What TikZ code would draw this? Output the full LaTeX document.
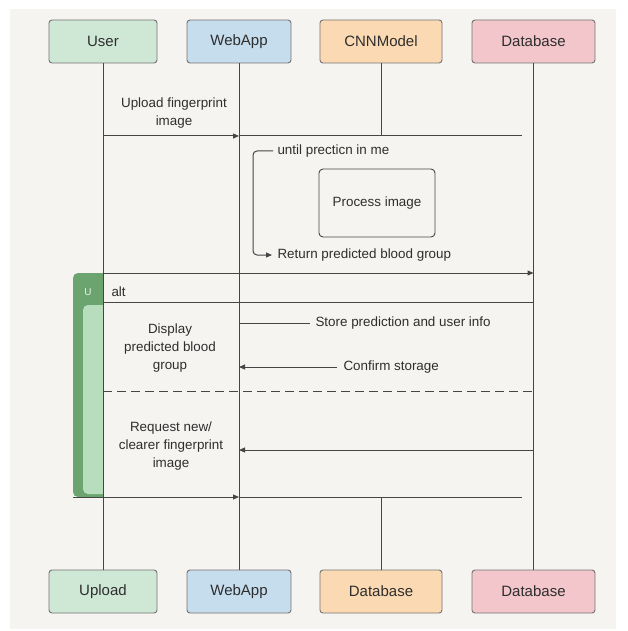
\documentclass[tikz,border=0pt]{standalone}
\usepackage{fontspec}
\setmainfont{Liberation Sans}
\definecolor{PanelBg}{HTML}{F6F4F1}
\definecolor{UserFill}{HTML}{CFE8D5}
\definecolor{WebFill}{HTML}{C6DDED}
\definecolor{ModelFill}{HTML}{FBD9B2}
\definecolor{DbFill}{HTML}{F2C6CA}
\definecolor{AltDark}{HTML}{6BA46F}
\definecolor{AltLight}{HTML}{B7DDBC}
\definecolor{InkLine}{HTML}{454545}
\definecolor{InkText}{HTML}{2E2E2E}
\usetikzlibrary{positioning, arrows.meta}

\begin{document}
\begin{tikzpicture}[x=1pt, y=-1pt,
    actor/.style={draw=gray!90!black, rounded corners=3pt, line width=0.9pt, minimum height=43pt,
      font=\fontsize{15}{17}\selectfont, text=InkText},
    lifeline/.style={InkLine, line width=1pt},
    msg/.style={lifeline, -{Triangle[length=6pt, width=5pt]}},
    msgtext/.style={font=\fontsize{13.4}{18}\selectfont, text=InkText, align=center}]

    \useasboundingbox (0,0) rectangle (628,631);
    \fill[white] (0,0) rectangle (628,631);
    \fill[PanelBg] (10,9) rectangle (616,629);

    % participants, top and bottom
    \node[actor, fill=UserFill, minimum width=108pt] (user) at (103,41.5) {User};
    \node[actor, fill=WebFill, minimum width=104pt] (webapp) at (239,41.5) {WebApp};
    \node[actor, fill=ModelFill, minimum width=122pt] (cnn) at (381,41.5) {CNNModel};
    \node[actor, fill=DbFill, minimum width=123pt] (db) at (533.5,41.5) {Database};

    \node[actor, fill=UserFill, minimum width=108pt] (upload) at (103,591.5) {Upload};
    \node[actor, fill=WebFill, minimum width=104pt] (webappB) at (239,591.5) {WebApp};
    \node[actor, fill=ModelFill, minimum width=122pt] (cnnB) at (381,591.5) {Database};
    \node[actor, fill=DbFill, minimum width=123pt] (dbB) at (533.5,591.5) {Database};

    % alt frame
    \fill[AltDark] (103,273) -- (78,273) [rounded corners=5pt] -- (73,273) -- (73,497) [sharp corners] -- (103,497) -- cycle;
    \fill[AltLight] (103,305) -- (88,305) [rounded corners=5pt] -- (83,305) -- (83,494) [sharp corners] -- (103,494) -- cycle;
    \node[text=white!85!AltDark, font=\fontsize{10}{12}\selectfont] at (88,292) {U};
    \node[msgtext, anchor=west] at (108,292) {alt};

    \coordinate (upMsg) at (103,136);
    \coordinate (retMsg) at (103,273);
    \coordinate (altTop) at (103,302);
    \coordinate (altSep) at (103,391);
    \coordinate (altEnd) at (73,497);

    % lifelines
    \draw[lifeline] (user) -- (upload);
    \draw[lifeline] (webapp) -- (webappB);
    \draw[lifeline] (db) -- (dbB);
    \draw[lifeline] (cnn) -- (cnn |- upMsg);
    \draw[lifeline] (cnnB |- altEnd) -- (cnnB);

    % messages
    \draw[msg] (upMsg) -- (upMsg -| webapp);
    \draw[lifeline] (upMsg -| webapp) -- (522,136);
    \node[msgtext] at (174,113.5) {Upload fingerprint\\image};

    \draw[lifeline, rounded corners=4pt, -{Triangle[length=6pt, width=5pt]}]
      (273,151) -- (253,151) -- (253,255) -- (272,255);
    \node[msgtext, anchor=west] at (274,151) {until precticn in me};
    \node[msgtext, anchor=west] at (274,255) {Return predicted blood group};
    \node[draw=InkLine, line width=0.9pt, rounded corners=4pt, minimum width=116pt, minimum height=68pt,
      msgtext] (proc) at (377,203) {Process image};

    \draw[msg] (retMsg) -- (retMsg -| db);
    \draw[lifeline] (altTop) -- (altTop -| db);

    \coordinate (storeEnd) at (310,323);
    \draw[lifeline] (storeEnd -| webapp) -- (storeEnd);
    \node[msgtext, anchor=west] at (312,323) {Store prediction and user info};
    \node[msgtext] at (170,348) {Display\\predicted blood\\group};
    \coordinate (confStart) at (337,367);
    \draw[msg] (confStart) -- (confStart -| webapp);
    \node[msgtext, anchor=west] at (340,367) {Confirm storage};

    \draw[lifeline, dash pattern=on 9pt off 5pt] (altSep) -- (altSep -| db);

    \coordinate (reqMsg) at (533.5,450);
    \draw[msg] (reqMsg) -- (reqMsg -| webapp);
    \node[msgtext] at (171,446) {Request new/\\clearer fingerprint\\image};

    \draw[msg] (altEnd) -- (altEnd -| webapp);
    \draw[lifeline] (altEnd -| webapp) -- (522,497);

\end{tikzpicture}
\end{document}
